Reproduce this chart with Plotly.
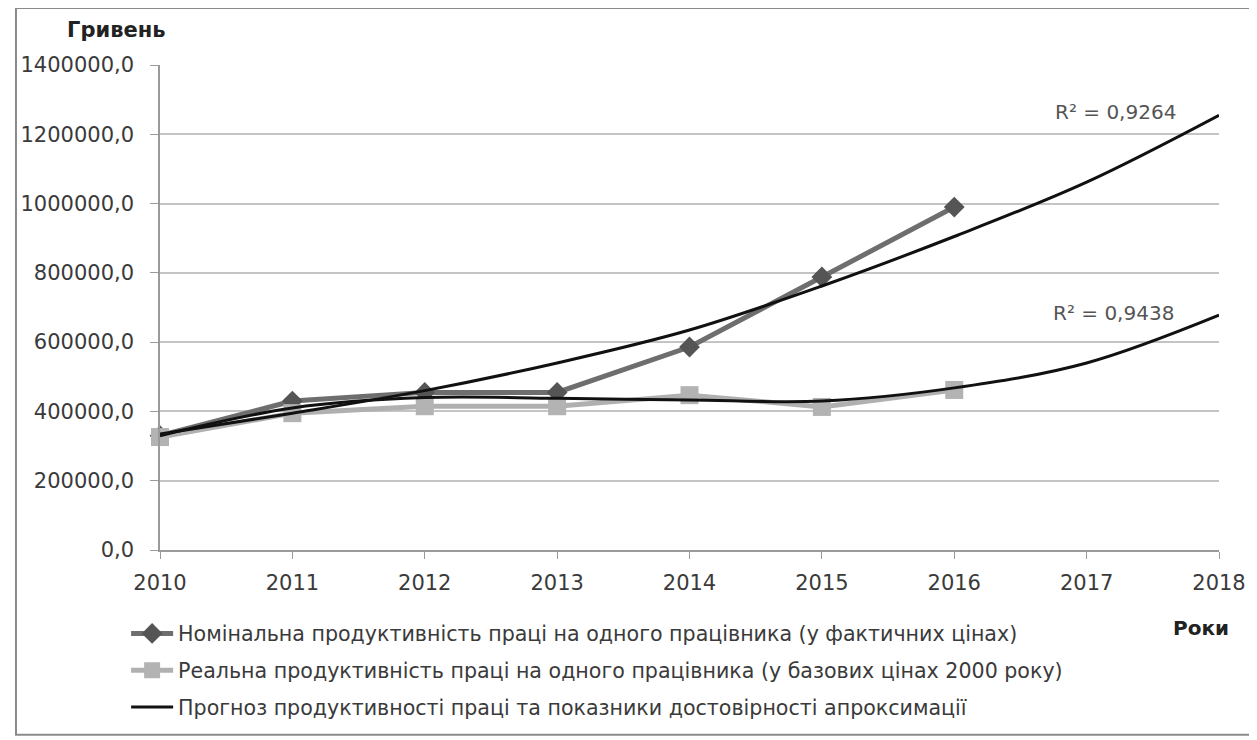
import plotly.graph_objects as go

years = [2010, 2011, 2012, 2013, 2014, 2015, 2016]
nominal = [330000, 430000, 455000, 455000, 586000, 788000, 990000]
real = [326000, 395000, 415000, 415000, 447000, 413000, 462000]

trend_years = [2010, 2011, 2012, 2013, 2014, 2015, 2016, 2017, 2018]
trend_nominal = [335000, 395000, 460000, 540000, 635000, 762000, 905000, 1062000, 1255000]
trend_real = [330000, 410000, 440000, 438000, 433000, 430000, 468000, 540000, 678000]

ytick_vals = [0, 200000, 400000, 600000, 800000, 1000000, 1200000, 1400000]
ytick_text = ["0,0", "200000,0", "400000,0", "600000,0", "800000,0", "1000000,0", "1200000,0", "1400000,0"]

name_nom = "Номінальна продуктивність праці на одного працівника (у фактичних цінах)"
name_real = "Реальна продуктивність праці на одного працівника (у базових цінах 2000 року)"
name_trend = "Прогноз продуктивності праці та показники достовірності апроксимації"
r2_nom = "R² = 0,9264"
r2_real = "R² = 0,9438"

FONT = "DejaVu Sans"
TXT = "#3a3a3a"

fig = go.Figure()
fig.add_trace(go.Scatter(x=years, y=nominal, mode="lines+markers", name=name_nom,
                         legendgroup="a", cliponaxis=False,
                         line=dict(color="#6e6e6e", width=5),
                         marker=dict(symbol="diamond", size=16, color="#555555")))
fig.add_trace(go.Scatter(x=years, y=real, mode="lines+markers", name=name_real,
                         legendgroup="b", cliponaxis=False,
                         line=dict(color="#b0b0b0", width=5),
                         marker=dict(symbol="square", size=18, color="#b3b3b3")))
fig.add_trace(go.Scatter(x=trend_years, y=trend_nominal, mode="lines", name=name_trend,
                         legendgroup="c", line=dict(color="#111111", width=3, shape="spline")))
fig.add_trace(go.Scatter(x=trend_years, y=trend_real, mode="lines", name=name_trend,
                         legendgroup="c", showlegend=False,
                         line=dict(color="#111111", width=3, shape="spline")))

fig.update_layout(
    width=1257, height=740,
    margin=dict(l=146, r=46, t=57, b=198),
    paper_bgcolor="white", plot_bgcolor="white",
    font=dict(family=FONT, size=20, color=TXT),
    showlegend=True,
    legend=dict(x=-0.032, y=-0.131, xanchor="left", yanchor="top",
                orientation="v", tracegroupgap=7, itemwidth=42,
                font=dict(family=FONT, size=20.6, color=TXT),
                bgcolor="rgba(0,0,0,0)"),
    xaxis=dict(range=[2010, 2018], tickvals=trend_years, ticktext=[str(y) for y in trend_years],
               showgrid=False, zeroline=False, showline=True, linecolor="#9a9a9a", linewidth=1.5,
               ticks="outside", ticklen=7, tickcolor="#9a9a9a", ticklabelstandoff=6,
               tickfont=dict(family=FONT, size=21, color=TXT)),
    yaxis=dict(range=[0, 1400000], tickvals=ytick_vals, ticktext=ytick_text,
               showgrid=True, gridcolor="#c4c4c4", gridwidth=1.5, zeroline=False,
               showline=True, linecolor="#9a9a9a", linewidth=1.5,
               ticks="outside", ticklen=8, tickcolor="#9a9a9a", ticklabelstandoff=12,
               tickfont=dict(family=FONT, size=21, color=TXT)),
    annotations=[
        dict(text="<b>Гривень</b>", xref="paper", yref="paper", x=-0.042, y=1.072,
             xanchor="center", yanchor="middle", showarrow=False,
             font=dict(family=FONT, size=21, color="#222222")),
        dict(text="<b>Роки</b>", xref="paper", yref="paper", x=0.983, y=-0.161,
             xanchor="center", yanchor="middle", showarrow=False,
             font=dict(family=FONT, size=20, color="#222222")),
        dict(text=r2_nom, xref="x", yref="y", x=2017.22, y=1265000,
             xanchor="center", yanchor="middle", showarrow=False,
             font=dict(family=FONT, size=20, color="#555555")),
        dict(text=r2_real, xref="x", yref="y", x=2017.2, y=684000,
             xanchor="center", yanchor="middle", showarrow=False,
             font=dict(family=FONT, size=20, color="#555555")),
    ],
    shapes=[dict(type="rect", xref="paper", yref="paper", x0=-0.136, x1=1.03, y0=-0.381, y1=1.1175,
                 line=dict(color="#8a8a8a", width=2), layer="below")],
)

fig.write_html("out.html")
